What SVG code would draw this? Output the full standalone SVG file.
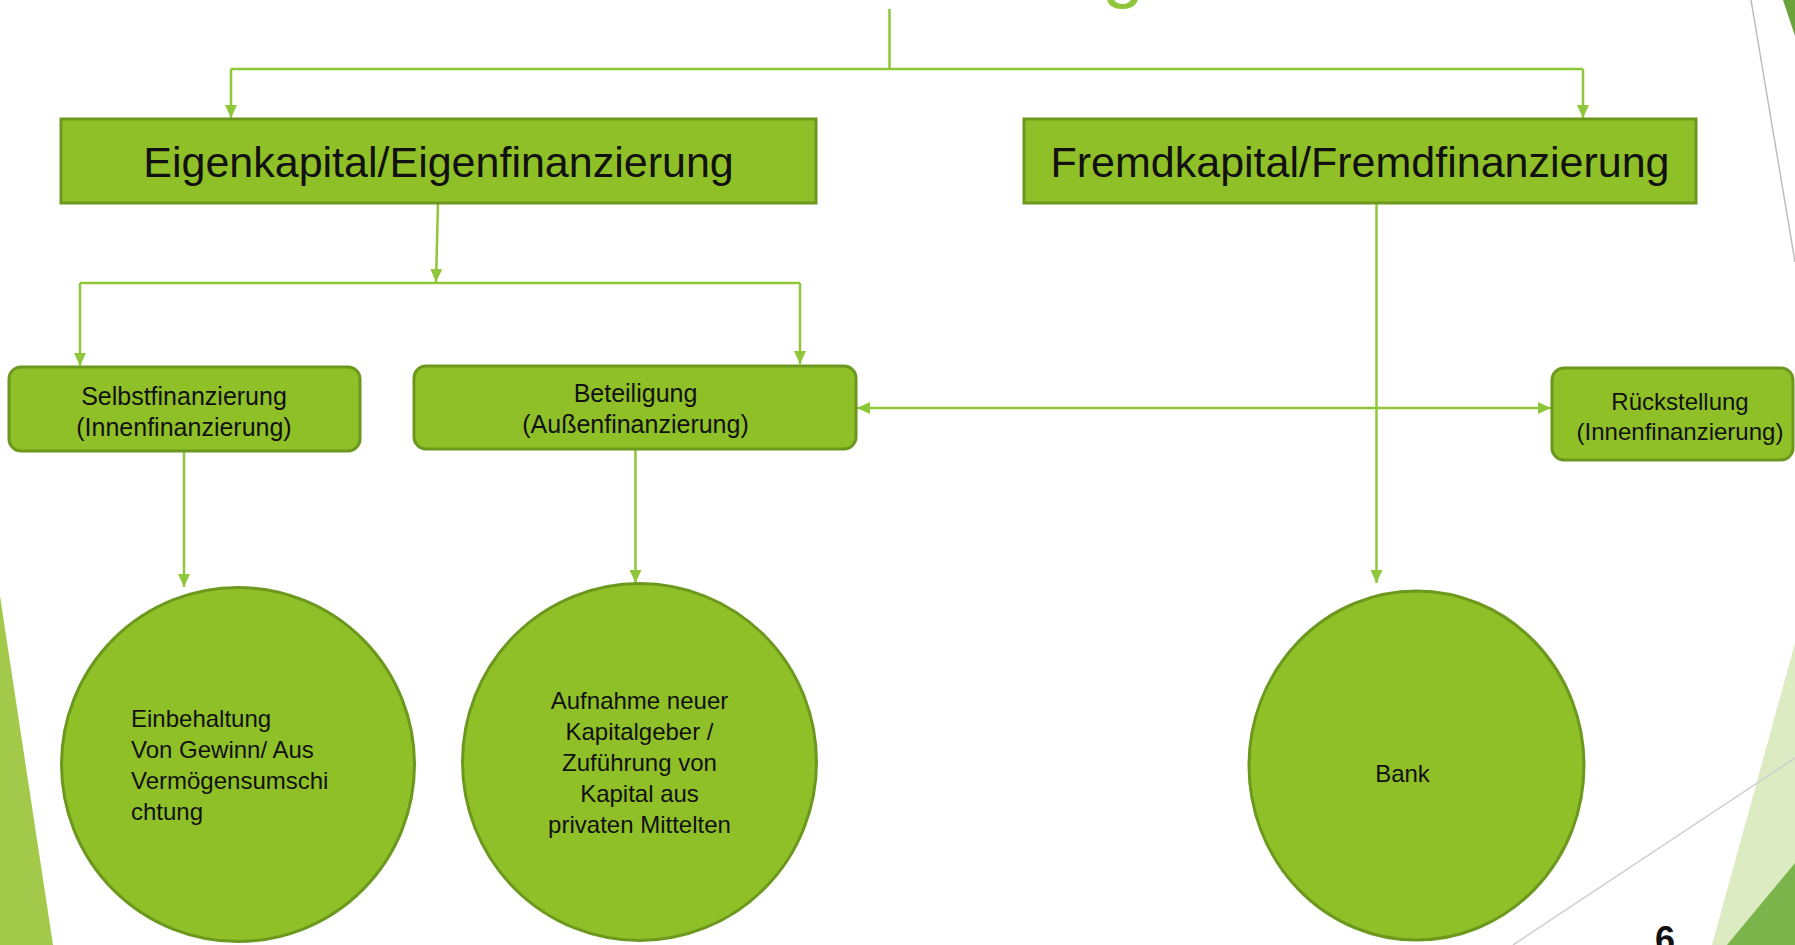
<svg xmlns="http://www.w3.org/2000/svg" width="1795" height="945" viewBox="0 0 1795 945">
<style>
.box{fill:#90c027;stroke:#6c981e;stroke-width:3}
.conn{fill:none;stroke:#8fc63a;stroke-width:2.5}
.t{font-family:"Liberation Sans",Arial,sans-serif;fill:#111}
.big{font-size:43px}
.mid{font-size:25px}
.sm{font-size:24px}
.cir{font-size:24px}
</style>
<defs>
<marker id="arr" markerUnits="userSpaceOnUse" markerWidth="13" markerHeight="12" refX="13" refY="6" orient="auto-start-reverse" viewBox="0 0 13 12">
<path d="M0,0 L13,6 L0,12 z" fill="#8fc63a"/>
</marker>
</defs>
<rect width="1795" height="945" fill="#ffffff"/>
<g id="background">
<polygon points="0,596 53,945 0,945" fill="#a3c94b"/>
<line x1="1751" y1="0" x2="1795" y2="262" stroke="#bdbdbd" stroke-width="1.5"/>
<polygon points="1783,0 1795,0 1795,36" fill="#6aa33a"/>
<polygon points="1795,643 1712,945 1795,945" fill="#dcebc2"/>
<polygon points="1795,863 1727,945 1795,945" fill="#7ab44a"/>
<line x1="1795" y1="758" x2="1513" y2="945" stroke="#cfcfcf" stroke-width="1.5"/>
<text x="1144" y="-6" text-anchor="end" font-family="Liberation Sans, Arial, sans-serif" font-size="75" fill="#8fc63a">Finanzierung</text>
<text x="1665" y="952" text-anchor="middle" font-family="Liberation Sans, Arial, sans-serif" font-size="36" font-weight="bold" fill="#111">6</text>
</g>
<g id="connectors">
<path class="conn" d="M889.5,9 V69"/>
<path class="conn" d="M231,69 H1583"/>
<path class="conn" d="M231,69 V118" marker-end="url(#arr)"/>
<path class="conn" d="M1583,69 V118" marker-end="url(#arr)"/>
<path class="conn" d="M438,203 L436,282" marker-end="url(#arr)"/>
<path class="conn" d="M80,283 H800"/>
<path class="conn" d="M80,283 V366" marker-end="url(#arr)"/>
<path class="conn" d="M800,283 V364" marker-end="url(#arr)"/>
<path class="conn" d="M184,452 V587" marker-end="url(#arr)"/>
<path class="conn" d="M635.5,450 V583" marker-end="url(#arr)"/>
<path class="conn" d="M1376.5,204 V583" marker-end="url(#arr)"/>
<path class="conn" d="M857,408 H1551" marker-start="url(#arr)" marker-end="url(#arr)"/>
</g>
<g id="eigenkapital">
<rect class="box" x="61" y="119" width="755" height="84"/>
<text class="t big" x="438.5" y="177" text-anchor="middle">Eigenkapital/Eigenfinanzierung</text>
</g>
<g id="fremdkapital">
<rect class="box" x="1024" y="119" width="672" height="84"/>
<text class="t big" x="1360" y="177" text-anchor="middle">Fremdkapital/Fremdfinanzierung</text>
</g>
<g id="selbstfinanzierung">
<rect class="box" x="9" y="367" width="351" height="84" rx="12"/>
<text class="t mid" x="184" y="405" text-anchor="middle">Selbstfinanzierung</text>
<text class="t mid" x="184" y="436" text-anchor="middle">(Innenfinanzierung)</text>
</g>
<g id="beteiligung">
<rect class="box" x="414" y="366" width="442" height="83" rx="12"/>
<text class="t mid" x="635.5" y="402" text-anchor="middle">Beteiligung</text>
<text class="t mid" x="635.5" y="433" text-anchor="middle">(Außenfinanzierung)</text>
</g>
<g id="rueckstellung">
<rect class="box" x="1552" y="368" width="241" height="92" rx="12"/>
<text class="t sm" x="1680" y="410" text-anchor="middle">Rückstellung</text>
<text class="t sm" x="1680" y="440" text-anchor="middle">(Innenfinanzierung)</text>
</g>
<g id="einbehaltung">
<ellipse class="box" cx="238" cy="764.5" rx="176.5" ry="177"/>
<text class="t cir" x="131" y="727">Einbehaltung</text>
<text class="t cir" x="131" y="758">Von Gewinn/ Aus</text>
<text class="t cir" x="131" y="789">Vermögensumschi</text>
<text class="t cir" x="131" y="820">chtung</text>
</g>
<g id="aufnahme">
<ellipse class="box" cx="639.5" cy="762" rx="177" ry="178.5"/>
<text class="t cir" x="639.5" y="709" text-anchor="middle">Aufnahme neuer</text>
<text class="t cir" x="639.5" y="740" text-anchor="middle">Kapitalgeber /</text>
<text class="t cir" x="639.5" y="771" text-anchor="middle">Zuführung von</text>
<text class="t cir" x="639.5" y="802" text-anchor="middle">Kapital aus</text>
<text class="t cir" x="639.5" y="833" text-anchor="middle">privaten Mittelten</text>
</g>
<g id="bank">
<ellipse class="box" cx="1416.5" cy="765.5" rx="167.5" ry="174.5"/>
<text class="t cir" x="1402.5" y="782" text-anchor="middle">Bank</text>
</g>
</svg>
